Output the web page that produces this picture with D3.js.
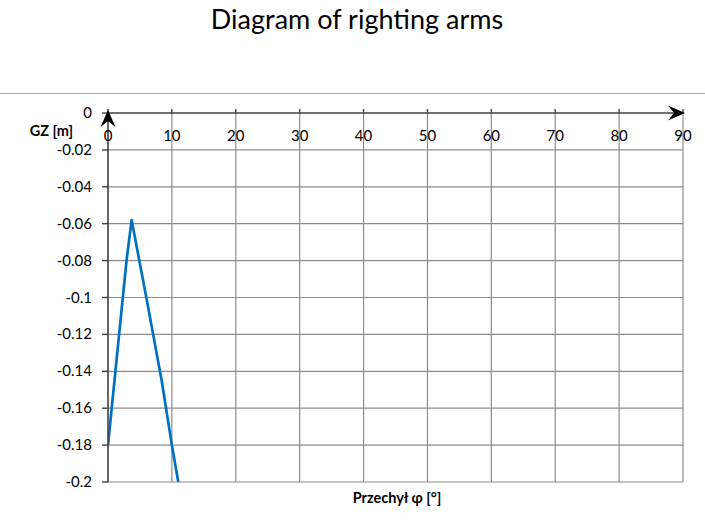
<!DOCTYPE html>
<html>
<head>
<meta charset="utf-8">
<script src="https://cdn.jsdelivr.net/npm/d3@7"></script>
<style>
  html, body { margin: 0; padding: 0; background: #fff; }
  svg { display: block; }
  text { font-family: Lato, "Open Sans", sans-serif; fill: #000; }
</style>
</head>
<body>
<svg id="chart" width="705" height="528"></svg>
<script>
// Righting arm curve GZ(φ)
const heelAngles = [0, 2.9, 3.7, 6.0, 8.4, 10, 11];
const gzValues   = [-0.18, -0.08, -0.058, -0.1, -0.145, -0.18, -0.2];

const xTicks = [0, 10, 20, 30, 40, 50, 60, 70, 80, 90];
const yTicks = [0, -0.02, -0.04, -0.06, -0.08, -0.1, -0.12, -0.14, -0.16, -0.18, -0.2];

const titleText = "Diagram of righting arms";
const xTitle = "Przechył φ [°]";
const yTitle = "GZ [m]";

const svg = d3.select("#chart");
const W = 705, H = 528;

const plot = { left: 108, right: 683, top: 113, bottom: 482 };

const x = d3.scaleLinear().domain([0, 90]).range([plot.left, plot.right]);
const y = d3.scaleLinear().domain([-0.2, 0]).range([plot.bottom, plot.top]);

// chart area top border
svg.append("line")
  .attr("x1", 0).attr("x2", W)
  .attr("y1", 93.5).attr("y2", 93.5)
  .attr("stroke", "#a6a6a6").attr("stroke-width", 1);

// title
svg.append("text")
  .attr("x", 357).attr("y", 29)
  .attr("text-anchor", "middle")
  .style("font-size", "27px")
  .text(titleText);

// gridlines
const grid = svg.append("g").attr("stroke", "#8c8c8c").attr("stroke-width", 1.2);
grid.selectAll("line.v").data(xTicks.filter(d => d > 0)).join("line")
  .attr("class", "v")
  .attr("x1", d => x(d)).attr("x2", d => x(d))
  .attr("y1", y(0)).attr("y2", y(-0.2));
grid.selectAll("line.h").data(yTicks.filter(d => d < 0)).join("line")
  .attr("class", "h")
  .attr("x1", x(0)).attr("x2", x(90))
  .attr("y1", d => y(d)).attr("y2", d => y(d));

// data line, clipped to the plot area
svg.append("clipPath").attr("id", "clip")
  .append("rect")
  .attr("x", plot.left).attr("y", plot.top - 2)
  .attr("width", plot.right - plot.left).attr("height", plot.bottom - plot.top + 2);

const pts = heelAngles.map((a, i) => [a, gzValues[i]]);
svg.append("path")
  .datum(pts)
  .attr("clip-path", "url(#clip)")
  .attr("fill", "none")
  .attr("stroke", "#0070c0")
  .attr("stroke-width", 2.7)
  .attr("stroke-linejoin", "round")
  .attr("d", d3.line().x(d => x(d[0])).y(d => y(d[1])));

// axes
const axisColor = "#404040";

// y axis line and ticks
svg.append("line")
  .attr("x1", x(0)).attr("x2", x(0))
  .attr("y1", y(-0.2)).attr("y2", y(0) - 2)
  .attr("stroke", axisColor).attr("stroke-width", 1.6);
svg.append("g").selectAll("line").data(yTicks).join("line")
  .attr("x1", x(0) - 6).attr("x2", x(0))
  .attr("y1", d => y(d)).attr("y2", d => y(d))
  .attr("stroke", axisColor).attr("stroke-width", 1.4);

const yFmt = d => String(+d.toFixed(2));
svg.append("g").selectAll("text").data(yTicks).join("text")
  .attr("x", 92)
  .attr("y", d => y(d) + 5)
  .attr("text-anchor", "end")
  .style("font-size", "15px")
  .text(yFmt);

// x axis line (at GZ = 0) and ticks
svg.append("line")
  .attr("x1", x(0)).attr("x2", x(90))
  .attr("y1", y(0)).attr("y2", y(0))
  .attr("stroke", axisColor).attr("stroke-width", 1.6);
svg.append("g").selectAll("line").data(xTicks).join("line")
  .attr("x1", d => x(d)).attr("x2", d => x(d))
  .attr("y1", y(0) - 4).attr("y2", y(0))
  .attr("stroke", axisColor).attr("stroke-width", 1.4);
svg.append("g").selectAll("text").data(xTicks).join("text")
  .attr("x", d => x(d))
  .attr("y", y(0) + 28)
  .attr("text-anchor", "middle")
  .style("font-size", "15px")
  .text(d => d);

// arrowheads at the axis ends
const arrow = (tx, ty, angle) => {
  // angle: direction the tip points, in degrees (0 = right)
  const shape = [[0, 0], [-17, -7.5], [-11, 0], [-17, 7.5]];
  const r = angle * Math.PI / 180;
  const p = shape.map(([px, py]) => [tx + px * Math.cos(r) - py * Math.sin(r), ty + px * Math.sin(r) + py * Math.cos(r)]);
  svg.append("path")
    .attr("d", d3.line()(p) + "Z")
    .attr("fill", "#000");
};
arrow(x(90) + 2, y(0), 0);
arrow(x(0), y(0) - 3, -90);

// axis titles
svg.append("text")
  .attr("x", 73).attr("y", 136)
  .attr("text-anchor", "end")
  .style("font-size", "14.5px").style("font-weight", "bold")
  .text(yTitle);
svg.append("text")
  .attr("x", 397).attr("y", 503)
  .attr("text-anchor", "middle")
  .style("font-size", "14.5px").style("font-weight", "bold")
  .text(xTitle);
</script>
</body>
</html>
